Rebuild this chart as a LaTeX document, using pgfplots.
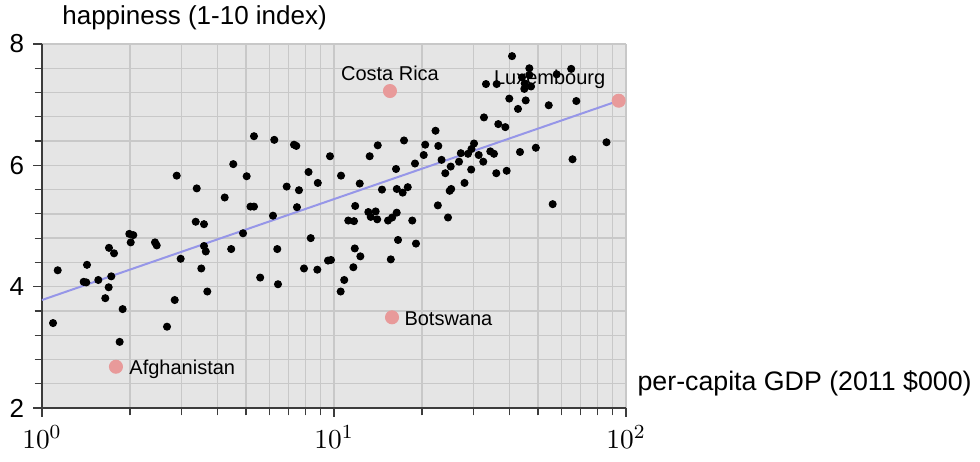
\documentclass[border=0pt]{standalone}
\usepackage{pgfplots}
\pgfplotsset{compat=1.18}
\usepackage{fontspec}
\setmainfont{Liberation Sans}
\definecolor{bgcol}{RGB}{229,229,229}
\definecolor{gridcol}{RGB}{200,200,200}
\definecolor{pinkcol}{RGB}{232,154,154}
\definecolor{linecol}{RGB}{150,150,232}
\definecolor{axcol}{RGB}{60,60,60}

\begin{document}
\begin{tikzpicture}
\useasboundingbox (-16.8pt,-21.6pt) rectangle (375.2pt,163.2pt);
\begin{axis}[
    scale only axis,
    width=233.6pt, height=145.6pt,
    xmode=log,
    xmin=1, xmax=100,
    ymin=2, ymax=8,
    ytick={2,4,6,8},
    minor y tick num=4,
    axis x line=bottom, axis y line=left,
    axis line style={-, draw=axcol, line width=0.6pt},
    tick align=outside,
    tick style={draw=axcol, line width=0.5pt},
    major tick length=3.6pt, minor tick length=3pt,
    grid=both,
    major grid style={draw=gridcol, line width=0.55pt},
    minor grid style={draw=gridcol, line width=0.55pt},
    axis background/.style={fill=bgcol},
    yticklabel style={font=\fontsize{10.4}{12}\selectfont, /pgf/number format/assume math mode=true},
    xticklabel style={font=\fontsize{11}{13}\selectfont},
    xlabel={per-capita GDP (2011 \$000)},
    ylabel={happiness (1-10 index)},
    every axis x label/.style={at={(axis description cs:1.019,0.069)}, anchor=west, inner sep=0pt, font=\fontsize{10.7}{12}\selectfont},
    every axis y label/.style={at={(axis description cs:0.034,1.071)}, anchor=west, inner sep=0pt, font=\fontsize{10.4}{12}\selectfont},
    clip=false
]
    % countries
    \addplot[only marks, mark=*, mark size=1.4pt, black] coordinates {
        (1.132,4.27) (1.091,3.40) (1.426,4.36) (1.389,4.08) (1.418,4.07)
        (1.559,4.11) (1.696,4.64) (1.765,4.55) (1.727,4.17) (1.692,3.99)
        (1.647,3.81) (1.889,3.63) (1.845,3.09) (1.991,4.87) (2.054,4.85)
        (2.013,4.73) (2.438,4.73) (2.471,4.68) (2.985,4.46) (2.848,3.78)
        (2.680,3.34) (2.893,5.83) (3.388,5.62) (4.224,5.47) (3.361,5.07)
        (3.588,5.03) (3.588,4.67) (3.639,4.58) (3.512,4.30) (3.683,3.92)
        (4.446,4.62) (4.880,4.88) (5.321,6.48) (6.245,6.42) (7.295,6.34)
        (7.428,6.32) (9.69,6.15) (4.519,6.02) (5.023,5.82) (8.181,5.89)
        (8.801,5.71) (6.887,5.65) (7.588,5.59) (5.176,5.32) (5.321,5.32)
        (7.468,5.31) (6.181,5.17) (8.324,4.80) (6.394,4.62) (5.588,4.15)
        (6.43,4.04) (7.895,4.30) (8.767,4.28) (9.539,4.43) (9.765,4.44)
        (10.57,5.83) (12.25,5.70) (13.25,6.15) (14.12,6.33) (17.37,6.41)
        (16.31,5.94) (18.94,6.03) (14.60,5.60) (16.41,5.61) (17.19,5.55)
        (17.89,5.64) (11.82,5.33) (13.11,5.23) (13.89,5.24) (13.36,5.15)
        (14.06,5.11) (11.19,5.09) (11.71,5.08) (15.31,5.09) (15.82,5.14)
        (16.40,5.22) (18.54,5.09) (16.57,4.77) (19.09,4.71) (11.78,4.63)
        (12.31,4.50) (15.65,4.45) (11.65,4.32) (10.84,4.11) (10.54,3.92)
        (22.27,6.57) (20.53,6.34) (22.76,6.32) (20.29,6.17) (23.35,6.09)
        (25.10,5.98) (24.05,5.87) (26.80,6.06) (27.18,6.20) (28.77,6.19)
        (29.57,6.27) (30.17,6.36) (31.30,6.17) (29.50,5.93) (27.99,5.71)
        (24.90,5.58) (25.20,5.61) (22.68,5.34) (24.57,5.14) (32.45,6.06)
        (34.30,6.23) (35.31,6.19) (43.35,6.22) (49.11,6.29) (35.96,5.87)
        (39.03,5.91) (65.60,6.10) (85.74,6.38) (56.10,5.36) (32.63,6.79)
        (36.53,6.68) (38.61,6.63) (39.84,7.10) (45.35,7.07) (42.67,6.93)
        (54.37,6.99) (67.59,7.06) (40.71,7.80) (46.66,7.60) (64.92,7.59)
        (33.15,7.34) (36.07,7.34) (44.04,7.45) (46.66,7.49) (44.99,7.35)
        (47.29,7.30) (44.85,7.26) (57.89,7.50)
    };
    % fitted line
    \addplot[no marks, color=linecol, line width=0.8pt] coordinates {
        (1,3.78) (94.4,7.065)
    };
    % highlighted countries
    \addplot[only marks, mark=*, mark size=2.6pt, mark options={draw=pinkcol, fill=pinkcol}] coordinates {
        (15.55,7.225) (15.8,3.495) (1.792,2.68) (94.4,7.065)
    };
    \node[anchor=base, font=\fontsize{8}{10}\selectfont, yshift=4.4pt] at (axis cs:15.55,7.225) {Costa Rica};
    \node[anchor=base east, inner sep=0pt, font=\fontsize{8}{10}\selectfont, xshift=-5.2pt, yshift=6.4pt] at (axis cs:94.4,7.065) {Luxembourg};
    \node[anchor=base west, inner sep=0pt, font=\fontsize{8}{10}\selectfont, xshift=4.8pt, yshift=-3.2pt] at (axis cs:15.8,3.495) {Botswana};
    \node[anchor=base west, inner sep=0pt, font=\fontsize{8}{10}\selectfont, xshift=5.2pt, yshift=-3.2pt] at (axis cs:1.792,2.68) {Afghanistan};
\end{axis}
\end{tikzpicture}
\end{document}
